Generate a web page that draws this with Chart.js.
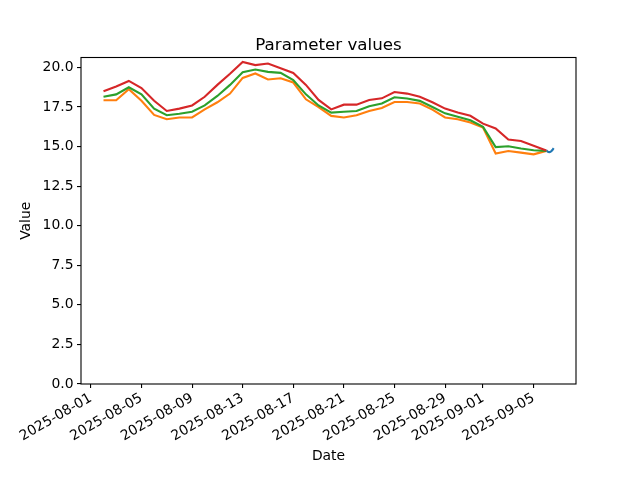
<!DOCTYPE html>
<html>
<head>
<meta charset="utf-8">
<script src="https://cdn.jsdelivr.net/npm/chart.js@4.4.1/dist/chart.umd.min.js"></script>
<style>
  body { margin: 0; background: #fff; }
</style>
</head>
<body>
  <canvas id="myChart" width="640" height="480"></canvas>
  <script>
    // daily values, 2025-08-02 .. 2025-09-06
    const dates = [
      '2025-08-02', '2025-08-03', '2025-08-04', '2025-08-05', '2025-08-06', '2025-08-07',
      '2025-08-08', '2025-08-09', '2025-08-10', '2025-08-11', '2025-08-12', '2025-08-13',
      '2025-08-14', '2025-08-15', '2025-08-16', '2025-08-17', '2025-08-18', '2025-08-19',
      '2025-08-20', '2025-08-21', '2025-08-22', '2025-08-23', '2025-08-24', '2025-08-25',
      '2025-08-26', '2025-08-27', '2025-08-28', '2025-08-29', '2025-08-30', '2025-08-31',
      '2025-09-01', '2025-09-02', '2025-09-03', '2025-09-04', '2025-09-05', '2025-09-06'
    ];
    const orangeValues = [17.93, 17.93, 18.63, 17.9, 17.0, 16.73, 16.84, 16.84, 17.35, 17.8, 18.35, 19.34,
      19.62, 19.24, 19.32, 19.05, 17.99, 17.5, 16.94, 16.84, 16.98, 17.25, 17.44, 17.82,
      17.82, 17.72, 17.34, 16.84, 16.73, 16.52, 16.2, 14.56, 14.72, 14.62, 14.51, 14.73];
    const greenValues = [18.15, 18.3, 18.75, 18.3, 17.4, 16.98, 17.08, 17.2, 17.6, 18.2, 18.9, 19.7,
      19.87, 19.72, 19.66, 19.2, 18.3, 17.6, 17.15, 17.2, 17.25, 17.55, 17.72, 18.12,
      18.04, 17.89, 17.5, 17.1, 16.88, 16.66, 16.25, 14.97, 15.02, 14.88, 14.77, 14.73];
    const redValues = [18.5, 18.8, 19.15, 18.7, 17.9, 17.25, 17.4, 17.6, 18.15, 18.9, 19.6, 20.35,
      20.15, 20.25, 19.95, 19.65, 18.9, 17.95, 17.35, 17.65, 17.65, 17.95, 18.05, 18.45,
      18.35, 18.15, 17.8, 17.4, 17.15, 16.95, 16.45, 16.15, 15.45, 15.35, 15.05, 14.75];

    // short intraday series on the last day
    const blueTimes = [
      '2025-09-06T00:00:00Z', '2025-09-06T02:00:00Z', '2025-09-06T04:00:00Z', '2025-09-06T06:00:00Z',
      '2025-09-06T08:00:00Z', '2025-09-06T10:00:00Z', '2025-09-06T12:00:00Z', '2025-09-06T14:00:00Z'
    ];
    const blueValues = [14.76, 14.7, 14.66, 14.65, 14.67, 14.72, 14.8, 14.9];

    const tickLabels = ['2025-08-01', '2025-08-05', '2025-08-09', '2025-08-13', '2025-08-17',
      '2025-08-21', '2025-08-25', '2025-08-29', '2025-09-01', '2025-09-05'];
    const yTicks = [0, 2.5, 5, 7.5, 10, 12.5, 15, 17.5, 20];

    const origin = Date.parse('2025-08-01T00:00:00Z');
    const toDay = s => (Date.parse(s.length === 10 ? s + 'T00:00:00Z' : s) - origin) / 86400000;
    const pts = (xs, ys) => xs.map((x, i) => ({x: toDay(x), y: ys[i]}));

    const frame = {
      id: 'frame',
      afterDraw(chart) {
        const {ctx, chartArea: a} = chart;
        ctx.save();
        ctx.strokeStyle = '#000';
        ctx.lineWidth = 1.1;
        ctx.strokeRect(a.left, a.top, a.right - a.left, a.bottom - a.top);
        ctx.fillStyle = '#000';
        ctx.font = '16.7px "DejaVu Sans"';
        ctx.textAlign = 'center';
        ctx.textBaseline = 'alphabetic';
        ctx.fillText('Parameter values', (a.left + a.right) / 2, a.top - 8);
        ctx.restore();
      }
    };

    Chart.defaults.font.family = '"DejaVu Sans", sans-serif';
    Chart.defaults.color = '#000';

    const line = (data, color, order) => ({
      data: data, borderColor: color, backgroundColor: color, borderWidth: 2.1,
      pointRadius: 0, tension: 0, fill: false, order: order
    });

    new Chart('myChart', {
      type: 'line',
      data: {
        datasets: [
          line(pts(blueTimes, blueValues), '#1f77b4', 4),
          line(pts(dates, orangeValues), '#ff7f0e', 3),
          line(pts(dates, greenValues), '#2ca02c', 2),
          line(pts(dates, redValues), '#d62728', 1)
        ]
      },
      options: {
        responsive: false,
        animation: false,
        layout: { padding: { top: 57.5, right: 64, left: 0, bottom: 0 } },
        plugins: {
          legend: { display: false },
          tooltip: { enabled: false },
          title: { display: false }
        },
        scales: {
          x: {
            type: 'linear',
            min: -0.78,
            max: 38.35,
            afterBuildTicks: s => { s.ticks = tickLabels.map(t => ({value: toDay(t)})); },
            afterFit: s => { s.height = 96; },
            border: { display: false },
            grid: { drawOnChartArea: false, drawTicks: true, tickLength: 4, color: '#000', lineWidth: 1.1 },
            ticks: {
              autoSkip: false, minRotation: 30, maxRotation: 30, padding: 2,
              font: { size: 13.9 },
              callback: (v, i) => tickLabels[i]
            },
            title: { display: true, text: 'Date', font: { size: 13.9 }, padding: { top: 0, bottom: 15 } }
          },
          y: {
            min: 0,
            max: 20.63,
            afterBuildTicks: s => { s.ticks = yTicks.map(v => ({value: v})); },
            afterFit: s => { s.width = 81; },
            border: { display: false },
            grid: { drawOnChartArea: false, drawTicks: true, tickLength: 4, color: '#000', lineWidth: 1.1 },
            ticks: {
              padding: 3.5,
              font: { size: 13.9 },
              callback: v => v.toFixed(1)
            },
            title: { display: true, text: 'Value', font: { size: 13.9 }, padding: { top: 18, bottom: 0 } }
          }
        }
      },
      plugins: [frame]
    });
  </script>
</body>
</html>
